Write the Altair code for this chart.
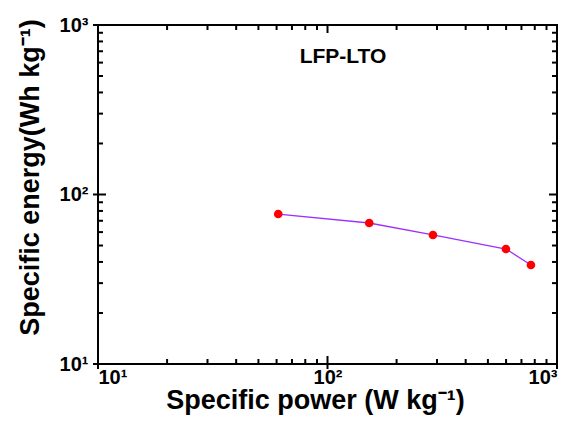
import altair as alt
import pandas as pd

power = [61, 152, 288, 599, 770]
energy = [76.7, 67.9, 57.7, 47.7, 38.4]
major_values = [10, 100, 1000]
minor_values = [20, 30, 40, 50, 60, 70, 80, 90,
                200, 300, 400, 500, 600, 700, 800, 900]
title_text = ["LFP-LTO"]

df = pd.DataFrame({"power": power, "energy": energy})
major_df = pd.DataFrame({"v": major_values})
minor_df = pd.DataFrame({"v": minor_values})

label_expr = ("datum.value == 10 ? '10\u00b9' : datum.value == 100 ? '10\u00b2' : "
              "datum.value == 1000 ? '10\u00b3' : ''")

FONT = "Liberation Sans"
W, H = 459, 339

xscale = alt.Scale(type="log", domain=[10, 1000])
yscale = alt.Scale(type="log", domain=[10, 1000])


def main_axis(orient, title, pad, **extra):
    return alt.Axis(
        orient=orient, values=major_values, labelExpr=label_expr,
        ticks=False, grid=False, domain=False,
        labelFont=FONT, labelFontSize=20, labelFontWeight="bold",
        labelColor="black", labelPadding=pad,
        title=title, titleFont=FONT, titleFontSize=27, titleFontWeight="bold",
        titleColor="black", titleAlign="center", titleBaseline="middle",
        **extra,
    )


base = alt.Chart(df)

line = base.mark_line(color="#9b30ff", strokeWidth=1.3).encode(
    x=alt.X("power:Q", scale=xscale,
            axis=main_axis("bottom", "Specific power (W kg\u207b\u00b9)", 3,
                           titleX=217, titleY=36)),
    y=alt.Y("energy:Q", scale=yscale,
            axis=main_axis("left", "Specific energy(Wh kg\u207b\u00b9)", 10,
                           titleX=-68, titleY=152, titleAngle=270)),
)

points = base.mark_point(filled=True, color="#ff0000", size=75, opacity=1).encode(
    x=alt.X("power:Q", scale=xscale),
    y=alt.Y("energy:Q", scale=yscale),
)

label = alt.Chart(pd.DataFrame({"t": title_text})).mark_text(
    font=FONT, fontSize=21, fontWeight="bold", color="black", baseline="alphabetic"
).encode(text="t:N", x=alt.value(245), y=alt.value(38))


def xticks(data, a, b):
    return alt.Chart(data).mark_rule(color="black", strokeWidth=2).encode(
        x=alt.X("v:Q", scale=xscale), y=alt.value(a), y2=alt.value(b))


def yticks(data, a, b):
    return alt.Chart(data).mark_rule(color="black", strokeWidth=2).encode(
        y=alt.Y("v:Q", scale=yscale), x=alt.value(a), x2=alt.value(b))


MAJ, MIN, OUT = 8, 5, 5
tick_layers = [
    # bottom
    xticks(major_df, H + OUT, H - MAJ),
    xticks(minor_df, H, H - MIN),
    # top
    xticks(major_df, 0, MAJ),
    xticks(minor_df, 0, MIN),
    # left
    yticks(major_df, -OUT, MAJ),
    yticks(minor_df, 0, MIN),
    # right
    yticks(major_df, W, W - MAJ),
    yticks(minor_df, W, W - MIN),
]

chart = alt.layer(line, *tick_layers, points, label).properties(
    width=W, height=H,
    autosize=alt.AutoSizeParams(type="none"),
    padding={"left": 98, "top": 25, "right": 19, "bottom": 70},
    background="white",
).configure_view(stroke="black", strokeWidth=2)

chart.save("out.html", embed_options={"renderer": "svg", "actions": False})
